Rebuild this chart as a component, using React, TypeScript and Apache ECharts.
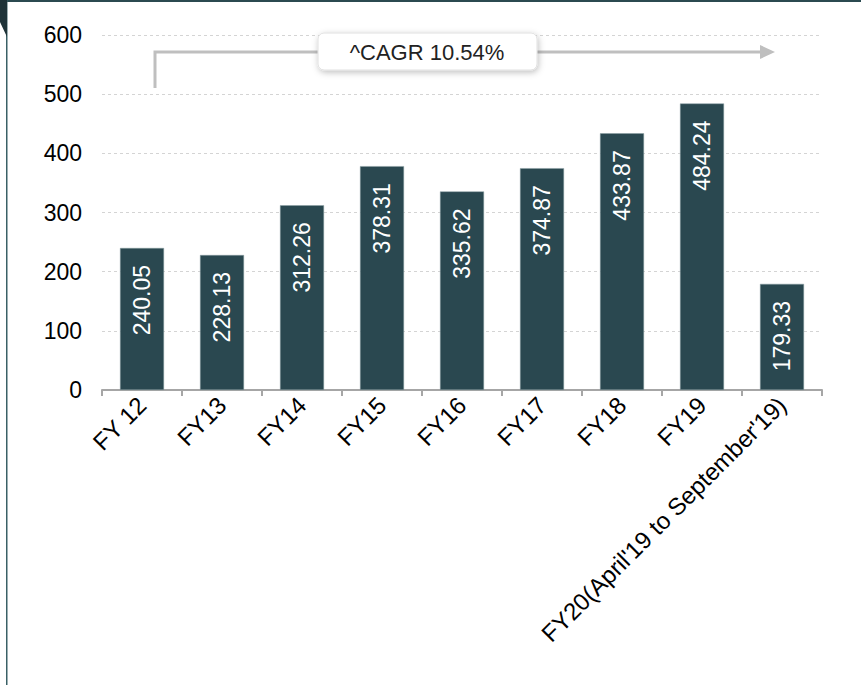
import React, { useEffect, useRef } from "react";
import * as echarts from "echarts";

const categories = ["FY 12", "FY13", "FY14", "FY15", "FY16", "FY17", "FY18", "FY19", "FY20(April'19 to September'19)"];
const values = [240.05, 228.13, 312.26, 378.31, 335.62, 374.87, 433.87, 484.24, 179.33];
const yTicks = { min: 0, max: 600, interval: 100 };
const cagrText = "^CAGR 10.54%";

const FONT = "'Liberation Sans', Arial, sans-serif";

export default function App() {
  const ref = useRef<HTMLDivElement>(null);
  useEffect(() => {
    if (!ref.current) return;
    const chart = echarts.init(ref.current, null, { renderer: "svg" });
    chart.setOption({
      animation: false,
      backgroundColor: "#ffffff",
      textStyle: { fontFamily: FONT },
      grid: { left: 102, right: 39, top: 35, bottom: 295, containLabel: false },
      xAxis: {
        type: "category",
        data: categories,
        axisLine: { show: true, lineStyle: { color: "#a6a6a6", width: 2 } },
        axisTick: { show: true, length: 6, lineStyle: { color: "#a6a6a6", width: 2 } },
        axisLabel: { rotate: 45, fontSize: 24, color: "#000", fontFamily: FONT, margin: 11, interval: 0 },
      },
      yAxis: {
        type: "value",
        min: yTicks.min,
        max: yTicks.max,
        interval: yTicks.interval,
        axisLine: { show: false },
        axisTick: { show: false },
        axisLabel: { fontSize: 23, color: "#000", fontFamily: FONT, margin: 20 },
        splitLine: { show: true, lineStyle: { color: "#d4d4d4", type: [3, 3], width: 1 } },
      },
      series: [
        {
          type: "bar",
          data: values,
          barWidth: 44,
          itemStyle: { color: "#2a4850", borderColor: "#8a9ea3", borderWidth: 0.5 },
          label: {
            show: true,
            position: "insideTop",
            distance: 17,
            rotate: 90,
            align: "right",
            verticalAlign: "middle",
            color: "#ffffff",
            fontSize: 23,
            fontFamily: FONT,
            formatter: (p: any) => p.value.toFixed(2),
          },
        },
      ],
      graphic: [
        { type: "rect", shape: { x: 0, y: 0, width: 861, height: 2 }, style: { fill: "#2b4a50" }, z: 100 },
        { type: "rect", shape: { x: 6, y: 0, width: 1.5, height: 685 }, style: { fill: "#3a6066" }, z: 100 },
        { type: "polygon", shape: { points: [[0, 0], [7, 0], [7, 37], [0, 22]] }, style: { fill: "#1f3338" }, z: 100 },
        { type: "polyline", shape: { points: [[155, 88], [155, 52], [762, 52]] }, style: { stroke: "#bfbfbf", lineWidth: 3, fill: "none" }, z: 50 },
        { type: "polygon", shape: { points: [[760, 45], [775, 52], [760, 59]] }, style: { fill: "#bfbfbf" }, z: 50 },
        {
          type: "rect",
          shape: { x: 318, y: 33, width: 219, height: 37, r: 6 },
          style: { fill: "#ffffff", stroke: "#e0e0e0", lineWidth: 1, shadowBlur: 6, shadowColor: "rgba(0,0,0,0.25)", shadowOffsetX: 1, shadowOffsetY: 2 },
          z: 60,
        },
        {
          type: "text",
          x: 427,
          y: 52,
          style: { text: cagrText, fontSize: 22, fontFamily: FONT, fill: "#222", align: "center", verticalAlign: "middle" },
          z: 61,
        },
      ],
    });
    return () => chart.dispose();
  }, []);
  return <div ref={ref} style={{ position: "fixed", left: 0, top: 0, width: 861, height: 685 }} />;
}
